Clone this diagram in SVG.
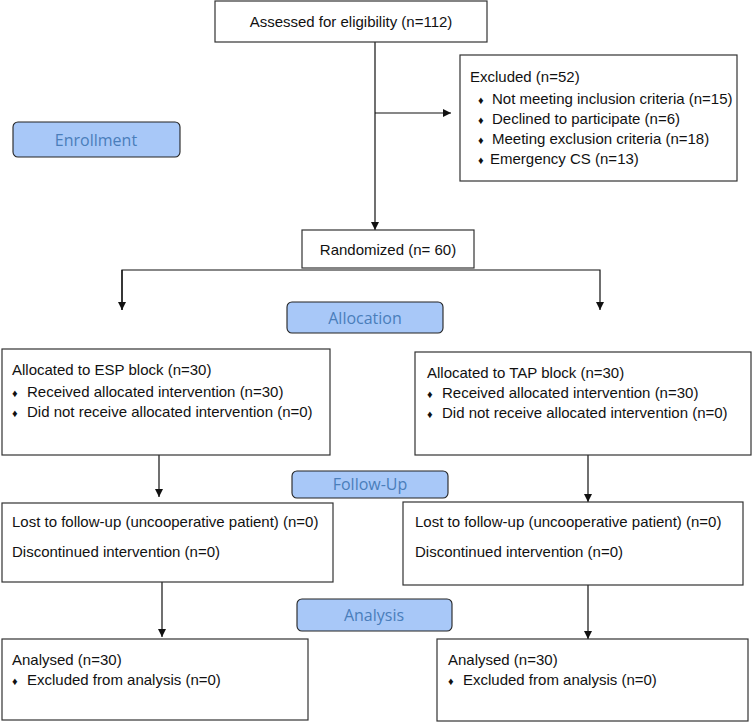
<svg xmlns="http://www.w3.org/2000/svg" width="753" height="723" viewBox="0 0 753 723">
<style>
.box{fill:#fff;stroke:#333;stroke-width:1.2}
.stage{fill:#a8c8f8;stroke:#222;stroke-width:1.1}
.t{font-family:"Liberation Sans",Arial,sans-serif;font-size:15px;fill:#111}
.c{text-anchor:middle}
.s{font-family:"Open Sans","Noto Sans",sans-serif;font-size:16px;fill:#4a7ebb;text-anchor:middle}
.b{font-size:11px}
.ln{stroke:#111;stroke-width:1.2;fill:none}
</style>
<defs>
<marker id="ah" viewBox="0 0 10 10" refX="10" refY="5" markerWidth="8" markerHeight="8" markerUnits="userSpaceOnUse" orient="auto">
<path d="M0,0 L10,5 L0,10 z" fill="#111"/>
</marker>
</defs>
<rect width="753" height="723" fill="#fff"/>
<g id="connectors">
<line class="ln" x1="375" y1="42" x2="375" y2="230" marker-end="url(#ah)"/>
<line class="ln" x1="375" y1="113" x2="451" y2="113" marker-end="url(#ah)"/>
<polyline class="ln" points="122,310 122,270 600,270 600,310" marker-end="url(#ah)"/>
<line class="ln" x1="122" y1="270" x2="122" y2="310" marker-end="url(#ah)"/>
<line class="ln" x1="159" y1="455" x2="159" y2="497" marker-end="url(#ah)"/>
<line class="ln" x1="588" y1="455" x2="588" y2="502" marker-end="url(#ah)"/>
<line class="ln" x1="162" y1="582" x2="162" y2="637" marker-end="url(#ah)"/>
<line class="ln" x1="588" y1="585" x2="588" y2="639" marker-end="url(#ah)"/>
</g>
<g id="assessed">
<rect class="box" x="215" y="1" width="272" height="41"/>
<text class="t c" x="351" y="27">Assessed for eligibility (n=112)</text>
</g>
<g id="excluded">
<rect class="box" x="460" y="55" width="277" height="126"/>
<text class="t" x="470" y="82">Excluded (n=52)</text>
<text class="t" x="478" y="104"><tspan class="b">♦</tspan><tspan x="492">Not meeting inclusion criteria (n=15)</tspan></text>
<text class="t" x="478" y="124"><tspan class="b">♦</tspan><tspan x="492">Declined to participate (n=6)</tspan></text>
<text class="t" x="478" y="144"><tspan class="b">♦</tspan><tspan x="492">Meeting exclusion criteria (n=18)</tspan></text>
<text class="t" x="478" y="164"><tspan class="b">♦</tspan><tspan x="490">Emergency CS (n=13)</tspan></text>
</g>
<g id="enrollment">
<rect class="stage" x="13" y="122" width="167" height="35" rx="5"/>
<text class="s" x="96" y="146">Enrollment</text>
</g>
<g id="randomized">
<rect class="box" x="302" y="230" width="172" height="38"/>
<text class="t c" x="388" y="255">Randomized (n= 60)</text>
</g>
<g id="allocation">
<rect class="stage" x="287" y="302" width="156" height="31" rx="5"/>
<text class="s" x="365" y="324">Allocation</text>
</g>
<g id="esp-alloc">
<rect class="box" x="2" y="349" width="328" height="106"/>
<text class="t" x="12" y="375">Allocated to ESP block (n=30)</text>
<text class="t" x="12" y="397"><tspan class="b">♦</tspan><tspan x="27">Received allocated intervention (n=30)</tspan></text>
<text class="t" x="12" y="417"><tspan class="b">♦</tspan><tspan x="27">Did not receive allocated intervention (n=0)</tspan></text>
</g>
<g id="tap-alloc">
<rect class="box" x="415" y="352" width="336" height="103"/>
<text class="t" x="427" y="378">Allocated to TAP block (n=30)</text>
<text class="t" x="427" y="398"><tspan class="b">♦</tspan><tspan x="442">Received allocated intervention (n=30)</tspan></text>
<text class="t" x="427" y="418"><tspan class="b">♦</tspan><tspan x="442">Did not receive allocated intervention (n=0)</tspan></text>
</g>
<g id="followup">
<rect class="stage" x="292" y="471" width="156" height="27" rx="5"/>
<text class="s" x="370" y="490">Follow-Up</text>
</g>
<g id="esp-follow">
<rect class="box" x="2" y="503" width="331" height="79"/>
<text class="t" x="12" y="527">Lost to follow-up (uncooperative patient) (n=0)</text>
<text class="t" x="12" y="557">Discontinued intervention (n=0)</text>
</g>
<g id="tap-follow">
<rect class="box" x="403" y="502" width="340" height="83"/>
<text class="t" x="415" y="527">Lost to follow-up (uncooperative patient) (n=0)</text>
<text class="t" x="415" y="557">Discontinued intervention (n=0)</text>
</g>
<g id="analysis">
<rect class="stage" x="297" y="599" width="155" height="32" rx="5"/>
<text class="s" x="374" y="621">Analysis</text>
</g>
<g id="esp-analysed">
<rect class="box" x="2" y="639" width="306" height="81"/>
<text class="t" x="12" y="665">Analysed (n=30)</text>
<text class="t" x="12" y="685"><tspan class="b">♦</tspan><tspan x="27">Excluded from analysis (n=0)</tspan></text>
</g>
<g id="tap-analysed">
<rect class="box" x="437" y="639" width="311" height="82"/>
<text class="t" x="448" y="665">Analysed (n=30)</text>
<text class="t" x="448" y="685"><tspan class="b">♦</tspan><tspan x="463">Excluded from analysis (n=0)</tspan></text>
</g>
</svg>
